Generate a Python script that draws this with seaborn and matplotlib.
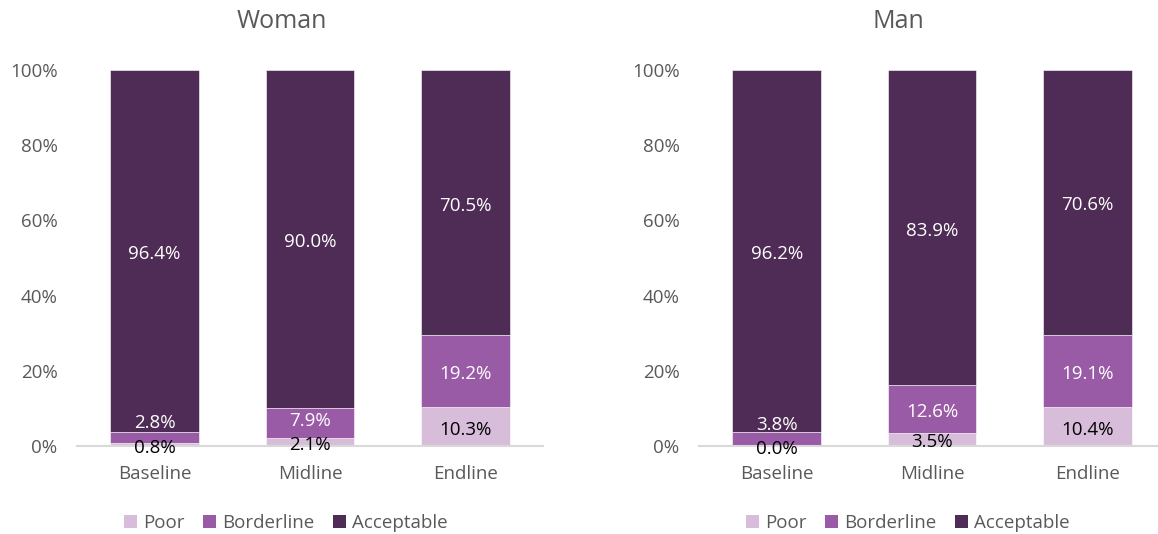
import matplotlib
matplotlib.use("Agg")
import matplotlib.pyplot as plt
import seaborn as sns
import numpy as np
import pandas as pd
from matplotlib.patches import Patch

categories = ["Baseline", "Midline", "Endline"]
groups = ["Woman", "Man"]
series = ["Poor", "Borderline", "Acceptable"]
woman_poor = [0.8, 2.1, 10.3]
woman_borderline = [2.8, 7.9, 19.2]
woman_acceptable = [96.4, 90.0, 70.5]
man_poor = [0.0, 3.5, 10.4]
man_borderline = [3.8, 12.6, 19.1]
man_acceptable = [96.2, 83.9, 70.6]
yticks = [0, 20, 40, 60, 80, 100]

colors = {"Poor": "#D8BDDB", "Borderline": "#9A5BA6", "Acceptable": "#4E2C55"}
label_colors = {"Poor": "#000000", "Borderline": "#FFFFFF", "Acceptable": "#FFFFFF"}
TEXT = "#595959"

sns.set_theme(style="white")
plt.rcParams["font.family"] = ["Open Sans", "DejaVu Sans"]

fig = plt.figure(figsize=(11.58, 5.34), dpi=100)
ax_pos = [[77 / 1158, 1 - 446 / 534, 466 / 1158, 376 / 534],
          [699 / 1158, 1 - 446 / 534, 466 / 1158, 376 / 534]]
title_x = [0.44, 0.427]
legend_x = [0.448, 0.448]

data = {
    "Woman": [woman_poor, woman_borderline, woman_acceptable],
    "Man": [man_poor, man_borderline, man_acceptable],
}

FS = 13.5
for gi, g in enumerate(groups):
    ax = fig.add_axes(ax_pos[gi])
    bottoms = np.zeros(len(categories))
    prev_label = np.full(len(categories), -100.0)
    for si, s in enumerate(series):
        vals = np.array(data[g][si], dtype=float)
        df = pd.DataFrame({"cat": categories, "val": vals})
        sns.barplot(data=df, x="cat", y="val", bottom=bottoms, color=colors[s],
                    width=0.57, ax=ax, saturation=1, edgecolor="white", linewidth=0.4)
        for i, v in enumerate(vals):
            center = bottoms[i] + v / 2
            ypos = max(center, prev_label[i] + 6.5)
            prev_label[i] = ypos
            ax.annotate(f"{v:.1f}%", xy=(i, ypos), xytext=(0, -2.2),
                        textcoords="offset points", ha="center", va="center",
                        color=label_colors[s], fontsize=FS)
        bottoms = bottoms + vals
    ax.set_xlim(-0.5, 2.5)
    ax.set_ylim(0, 100)
    ax.set_yticks(yticks)
    ax.set_yticklabels([f"{t}%" for t in yticks])
    ax.set_xlabel("")
    ax.set_ylabel("")
    for sp in ["top", "right", "left"]:
        ax.spines[sp].set_visible(False)
    ax.spines["bottom"].set_color("#D9D9D9")
    ax.spines["bottom"].set_linewidth(1.5)
    ax.spines["bottom"].set_clip_on(False)
    ax.tick_params(axis="y", length=0, pad=14, labelsize=FS, labelcolor=TEXT)
    ax.tick_params(axis="x", length=0, pad=14, labelsize=FS, labelcolor=TEXT)
    ax.set_title(g, fontsize=18, color=TEXT, pad=30, x=title_x[gi])
    ax.set_facecolor("none")
    handles = [Patch(facecolor=colors[s], edgecolor="none", label=s) for s in series]
    ax.legend(handles=handles, loc="center", bbox_to_anchor=(legend_x[gi], -0.205),
              ncol=3, frameon=False, fontsize=FS, labelcolor=TEXT,
              handlelength=0.7, handleheight=0.7, handletextpad=0.3, columnspacing=1.0)

fig.savefig("out.png", dpi=100, facecolor="white")
